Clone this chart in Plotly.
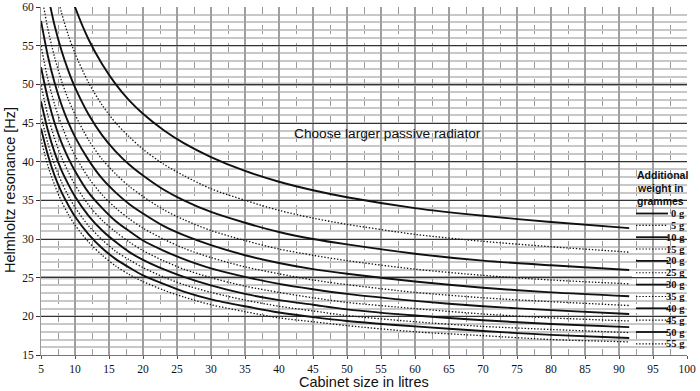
import plotly.graph_objects as go

# ---------------- data ----------------
volume_litres = [5, 6, 7, 8, 9, 10, 12, 14, 16, 18, 20, 23, 26, 30, 35, 40, 45, 50, 60, 70, 80, 91.5]

weight_labels = ["0 g", "5 g", "10 g", "15 g", "20 g", "25 g", "30 g", "35 g", "40 g", "45 g", "50 g", "55 g"]

hz_0g  = [None, None, None, None, 62.7, 60.0, 55.8, 52.6, 50.0, 47.9, 46.2, 44.1, 42.4, 40.6, 38.8, 37.4, 36.3, 35.4, 34.0, 33.0, 32.2, 31.4]
hz_5g  = [None, None, 62.8, 59.3, 56.4, 54.0, 50.2, 47.3, 45.0, 43.2, 41.6, 39.7, 38.2, 36.5, 35.0, 33.7, 32.7, 31.9, 30.6, 29.7, 29.0, 28.3]
hz_10g = [None, 61.6, 57.6, 54.4, 51.8, 49.6, 46.1, 43.4, 41.3, 39.6, 38.2, 36.4, 35.0, 33.5, 32.1, 30.9, 30.0, 29.3, 28.1, 27.2, 26.6, 26.0]
hz_15g = [62.0, 57.2, 53.5, 50.5, 48.1, 46.1, 42.8, 40.3, 38.4, 36.8, 35.5, 33.8, 32.5, 31.1, 29.8, 28.7, 27.9, 27.2, 26.1, 25.3, 24.7, 24.2]
hz_20g = [58.2, 53.7, 50.2, 47.4, 45.1, 43.2, 40.2, 37.8, 36.0, 34.5, 33.3, 31.7, 30.5, 29.2, 27.9, 26.9, 26.1, 25.5, 24.5, 23.7, 23.1, 22.6]
hz_25g = [55.0, 50.7, 47.4, 44.8, 42.6, 40.8, 37.9, 35.7, 34.0, 32.6, 31.4, 30.0, 28.8, 27.6, 26.4, 25.5, 24.7, 24.1, 23.1, 22.4, 21.9, 21.4]
hz_30g = [52.2, 48.2, 45.0, 42.5, 40.5, 38.8, 36.0, 34.0, 32.3, 31.0, 29.8, 28.5, 27.4, 26.2, 25.1, 24.2, 23.5, 22.9, 22.0, 21.3, 20.8, 20.3]
hz_35g = [49.9, 46.0, 43.0, 40.6, 38.7, 37.0, 34.4, 32.4, 30.9, 29.6, 28.5, 27.2, 26.1, 25.0, 23.9, 23.1, 22.4, 21.8, 21.0, 20.3, 19.8, 19.4]
hz_40g = [47.8, 44.1, 41.2, 38.9, 37.1, 35.5, 33.0, 31.1, 29.6, 28.3, 27.3, 26.1, 25.1, 24.0, 22.9, 22.1, 21.5, 20.9, 20.1, 19.5, 19.0, 18.6]
hz_45g = [46.0, 42.4, 39.6, 37.4, 35.6, 34.1, 31.7, 29.9, 28.4, 27.3, 26.3, 25.1, 24.1, 23.1, 22.1, 21.3, 20.7, 20.1, 19.3, 18.7, 18.3, 17.9]
hz_50g = [44.3, 40.9, 38.2, 36.1, 34.4, 32.9, 30.6, 28.8, 27.4, 26.3, 25.3, 24.2, 23.2, 22.2, 21.3, 20.5, 19.9, 19.4, 18.7, 18.1, 17.6, 17.2]
hz_55g = [42.9, 39.5, 37.0, 34.9, 33.2, 31.8, 29.6, 27.9, 26.5, 25.4, 24.5, 23.4, 22.5, 21.5, 20.6, 19.8, 19.3, 18.8, 18.0, 17.5, 17.0, 16.7]

series_values = [hz_0g, hz_5g, hz_10g, hz_15g, hz_20g, hz_25g, hz_30g, hz_35g, hz_40g, hz_45g, hz_50g, hz_55g]

x_tick_values = list(range(5, 101, 5))
y_tick_values = list(range(15, 61, 5))

annotation_text = "Choose larger passive radiator"
legend_title_lines = ["Additional", "weight in", "grammes"]

# ---------------- figure ----------------
W, H = 700, 391
ML, MR, MT, MB = 41, 13, 7, 36
PW, PH = W - ML - MR, H - MT - MB

def px_x(px):
    return (px - ML) / PW

def px_y(py):
    return 1 - (py - MT) / PH

DOT = "1.4px,1.8px"

fig = go.Figure()

for i, (lab, vals) in enumerate(zip(weight_labels, series_values)):
    dotted = i % 2 == 1
    fig.add_trace(go.Scatter(
        x=volume_litres, y=vals, mode="lines", name=lab,
        line=dict(color="#111111", width=1.3 if dotted else 1.9,
                  dash=DOT if dotted else "solid", shape="spline", smoothing=0.8),
        connectgaps=False, showlegend=False, hoverinfo="x+y+name",
    ))

shapes = []
# emphasised grid lines at 25 and 50 Hz
for yv in (25, 50):
    shapes.append(dict(type="line", xref="paper", yref="y", x0=0, x1=1, y0=yv, y1=yv,
                       line=dict(color="#8a8a8a", width=3), layer="between"))
# legend box background
shapes.append(dict(type="rect", xref="paper", yref="paper",
                   x0=px_x(632), x1=px_x(700), y0=px_y(352), y1=px_y(165),
                   fillcolor="white", line=dict(width=0), layer="between"))

annotations = []
for j, line_txt in enumerate(legend_title_lines):
    annotations.append(dict(text="<b>" + line_txt + "</b>", xref="paper", yref="paper",
                            x=px_x(636), y=px_y(174.5 + j * 13.2), xanchor="left", yanchor="middle",
                            align="left", showarrow=False, borderpad=0,
                            font=dict(family="Liberation Sans", size=10.5, color="#111111")))
for i, lab in enumerate(weight_labels):
    py = 213.5 + i * 11.85
    dotted = i % 2 == 1
    shapes.append(dict(type="line", xref="paper", yref="paper",
                       x0=px_x(636), x1=px_x(668), y0=px_y(py), y1=px_y(py),
                       line=dict(color="#111111", width=1.1 if dotted else 1.8,
                                 dash=DOT if dotted else "solid"), layer="above"))
    annotations.append(dict(text="<b>" + lab + "</b>", xref="paper", yref="paper",
                            x=px_x(686), y=px_y(py), xanchor="right", yanchor="middle",
                            showarrow=False, borderpad=0,
                            font=dict(family="Liberation Serif", size=10.5, color="#111111")))

# plot annotation
annotations.append(dict(text=annotation_text, x=56, y=43.7, xref="x", yref="y",
                        showarrow=False, xanchor="center", yanchor="middle",
                        font=dict(family="Liberation Sans", size=13.7, color="#111111")))
# axis titles
annotations.append(dict(text="Cabinet size in litres", xref="paper", yref="paper",
                        x=px_x(364), y=px_y(382), xanchor="center", yanchor="middle",
                        showarrow=False,
                        font=dict(family="Liberation Sans", size=14.5, color="#111111")))
annotations.append(dict(text="Helmholtz resonance [Hz]", xref="paper", yref="paper",
                        x=px_x(10), y=px_y(190), xanchor="center", yanchor="middle",
                        textangle=-90, showarrow=False,
                        font=dict(family="Liberation Sans", size=14.5, color="#111111")))

fig.update_layout(
    width=W, height=H,
    margin=dict(l=ML, r=MR, t=MT, b=MB, pad=0),
    paper_bgcolor="white", plot_bgcolor="white",
    showlegend=False,
    shapes=shapes, annotations=annotations,
    xaxis=dict(range=[5, 100], tickvals=x_tick_values, ticktext=[str(v) for v in x_tick_values],
               showgrid=True, gridcolor="#a0a0a0", gridwidth=1.5,
               minor=dict(dtick=2.5, tick0=5, showgrid=True, gridcolor="#9a9a9a",
                          griddash="dash", gridwidth=1),
               ticks="outside", ticklen=3, tickcolor="#555555",
               showline=True, linecolor="#777777", linewidth=1,
               zeroline=False, mirror=False, automargin=False,
               tickfont=dict(family="Liberation Serif", size=11.5, color="#111111")),
    yaxis=dict(range=[15, 60], tickvals=y_tick_values, ticktext=[str(v) for v in y_tick_values],
               showgrid=True, gridcolor="#333333", gridwidth=1,
               minor=dict(dtick=1, tick0=15, showgrid=True, gridcolor="#c8c8c8", gridwidth=2),
               ticks="outside", ticklen=4, tickcolor="#333333",
               showline=True, linecolor="#999999", linewidth=1,
               zeroline=False, automargin=False,
               tickfont=dict(family="Liberation Serif", size=11.5, color="#111111")),
)

fig.write_html("out.html", include_plotlyjs=True, config={"displayModeBar": False},
               post_script="document.body.style.margin='0px';document.body.style.overflow='hidden';")
